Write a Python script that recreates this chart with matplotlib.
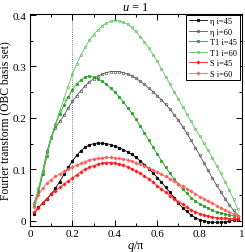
import matplotlib

matplotlib.use("Agg")
import matplotlib.pyplot as plt
from matplotlib.ticker import MultipleLocator

# q / pi grid
q = [round(0.02 * k, 2) for k in range(1, 50)]

eta_45 = [0.014, 0.026, 0.034, 0.042, 0.052, 0.063, 0.076, 0.090, 0.104, 0.116,
          0.127, 0.136, 0.143, 0.147, 0.150, 0.151, 0.151, 0.150, 0.148, 0.145,
          0.142, 0.138, 0.134, 0.129, 0.123, 0.116, 0.109, 0.101, 0.093, 0.084,
          0.075, 0.065, 0.055, 0.045, 0.034, 0.025, 0.018, 0.011, 0.006, 0.002,
          0.000, -0.002, -0.003, -0.003, -0.003, -0.002, -0.001, 0.001, 0.003]
eta_60 = [0.035, 0.060, 0.097, 0.135, 0.163, 0.181, 0.193, 0.205, 0.219, 0.232,
          0.243, 0.253, 0.262, 0.270, 0.276, 0.281, 0.285, 0.288, 0.290, 0.290,
          0.290, 0.288, 0.285, 0.282, 0.277, 0.271, 0.265, 0.258, 0.251, 0.243,
          0.235, 0.226, 0.217, 0.206, 0.195, 0.183, 0.170, 0.156, 0.142, 0.128,
          0.113, 0.098, 0.083, 0.069, 0.056, 0.043, 0.031, 0.020, 0.010]
t1_45 = [0.028, 0.055, 0.090, 0.125, 0.160, 0.187, 0.207, 0.225, 0.240, 0.255,
         0.266, 0.274, 0.279, 0.281, 0.279, 0.276, 0.271, 0.265, 0.258, 0.250,
         0.241, 0.231, 0.220, 0.209, 0.197, 0.184, 0.171, 0.157, 0.143, 0.130,
         0.117, 0.104, 0.092, 0.081, 0.071, 0.062, 0.053, 0.045, 0.038, 0.033,
         0.028, 0.024, 0.020, 0.017, 0.015, 0.013, 0.011, 0.010, 0.009]
t1_60 = [0.031, 0.063, 0.096, 0.130, 0.163, 0.189, 0.213, 0.237, 0.261, 0.285,
         0.304, 0.322, 0.337, 0.351, 0.362, 0.371, 0.379, 0.384, 0.388, 0.390,
         0.389, 0.386, 0.382, 0.376, 0.368, 0.358, 0.347, 0.336, 0.323, 0.310,
         0.295, 0.280, 0.266, 0.251, 0.236, 0.222, 0.207, 0.193, 0.179, 0.165,
         0.151, 0.137, 0.122, 0.107, 0.092, 0.076, 0.059, 0.042, 0.022]
s_45 = [0.016, 0.025, 0.035, 0.043, 0.051, 0.058, 0.065, 0.071, 0.077, 0.083,
        0.089, 0.095, 0.100, 0.104, 0.107, 0.110, 0.112, 0.113, 0.113, 0.112,
        0.111, 0.108, 0.105, 0.101, 0.097, 0.092, 0.087, 0.081, 0.075, 0.068,
        0.061, 0.055, 0.049, 0.043, 0.037, 0.032, 0.026, 0.021, 0.017, 0.014,
        0.011, 0.009, 0.007, 0.006, 0.005, 0.005, 0.004, 0.004, 0.004]
s_60 = [0.026, 0.050, 0.063, 0.073, 0.080, 0.086, 0.091, 0.096, 0.100, 0.104,
        0.108, 0.112, 0.115, 0.118, 0.120, 0.121, 0.122, 0.123, 0.123, 0.122,
        0.121, 0.120, 0.118, 0.116, 0.113, 0.110, 0.107, 0.103, 0.099, 0.094,
        0.090, 0.086, 0.082, 0.077, 0.072, 0.067, 0.062, 0.057, 0.052, 0.047,
        0.043, 0.038, 0.034, 0.029, 0.025, 0.021, 0.017, 0.013, 0.009]

labels = ["η i=45", "η i=60", "T1 i=45", "T1 i=60", "S i=45", "S i=60"]
x_ticks = [0, 0.2, 0.4, 0.6, 0.8, 1]
x_tick_labels = ["0", "0.2", "0.4", "0.6", "0.8", "1"]
y_ticks = [0, 0.1, 0.2, 0.3, 0.4]
y_tick_labels = ["0", "0.1", "0.2", "0.3", "0.4"]


def main() -> None:
    plt.rcParams["font.family"] = ["Liberation Serif", "DejaVu Serif"]
    plt.rcParams["mathtext.fontset"] = "custom"
    plt.rcParams["mathtext.rm"] = "Liberation Serif"
    plt.rcParams["mathtext.it"] = "Liberation Serif:italic"

    fig = plt.figure(figsize=(2.45, 2.53), dpi=100)
    ax = fig.add_axes([30 / 245, 26 / 253, 212 / 245, 212 / 253])

    ax.axvline(0.2, color="#555555", lw=0.6, ls=(0, (1, 1.5)), zorder=1)

    styles = [
        (eta_45, "black", "o", "black", 1.9),
        (eta_60, "#555555", "o", "none", 1.9),
        (t1_45, "#1ba11b", "s", "#1ba11b", 1.7),
        (t1_60, "#5cc45c", "s", "none", 1.7),
        (s_45, "#ff1a1a", "P", "#ff1a1a", 2.1),
        (s_60, "#ff5c5c", "P", "#ff5c5c", 2.1),
    ]
    for (vals, col, mk, fc, ms), lab in zip(styles, labels):
        ax.plot(q, vals, color=col, lw=0.6, marker=mk, ms=ms, mfc=fc,
                mec=col, mew=0.5, label=lab, zorder=3)

    ax.set_xlim(0, 1)
    ax.set_ylim(-0.0103, 0.402)
    ax.set_xticks(x_ticks)
    ax.set_xticklabels(x_tick_labels)
    ax.set_yticks(y_ticks)
    ax.set_yticklabels(y_tick_labels)
    ax.xaxis.set_minor_locator(MultipleLocator(0.1))
    ax.yaxis.set_minor_locator(MultipleLocator(0.05))
    ax.tick_params(which="both", direction="in", top=True, right=True,
                   labelsize=8, width=0.7, pad=2.5)
    ax.tick_params(which="major", length=4)
    ax.tick_params(which="minor", length=2)
    for s in ax.spines.values():
        s.set_linewidth(0.8)

    ax.set_title("$u$ = 1", fontsize=9, pad=3)
    ax.set_xlabel("$q$/π", fontsize=9, labelpad=0)
    ax.set_ylabel("Fourier transform (OBC basis set)", fontsize=8.4, labelpad=1)

    leg = ax.legend(loc="upper right", bbox_to_anchor=(0.99, 0.997),
                    borderaxespad=0, fontsize=6, frameon=True, fancybox=False,
                    framealpha=1, edgecolor="black", handlelength=2.2,
                    handletextpad=0.4, labelspacing=0.3, borderpad=0.3,
                    markerscale=1.0)
    leg.get_frame().set_linewidth(0.7)

    fig.savefig("out.png", dpi=100)
    plt.close(fig)


if __name__ == "__main__":
    main()
